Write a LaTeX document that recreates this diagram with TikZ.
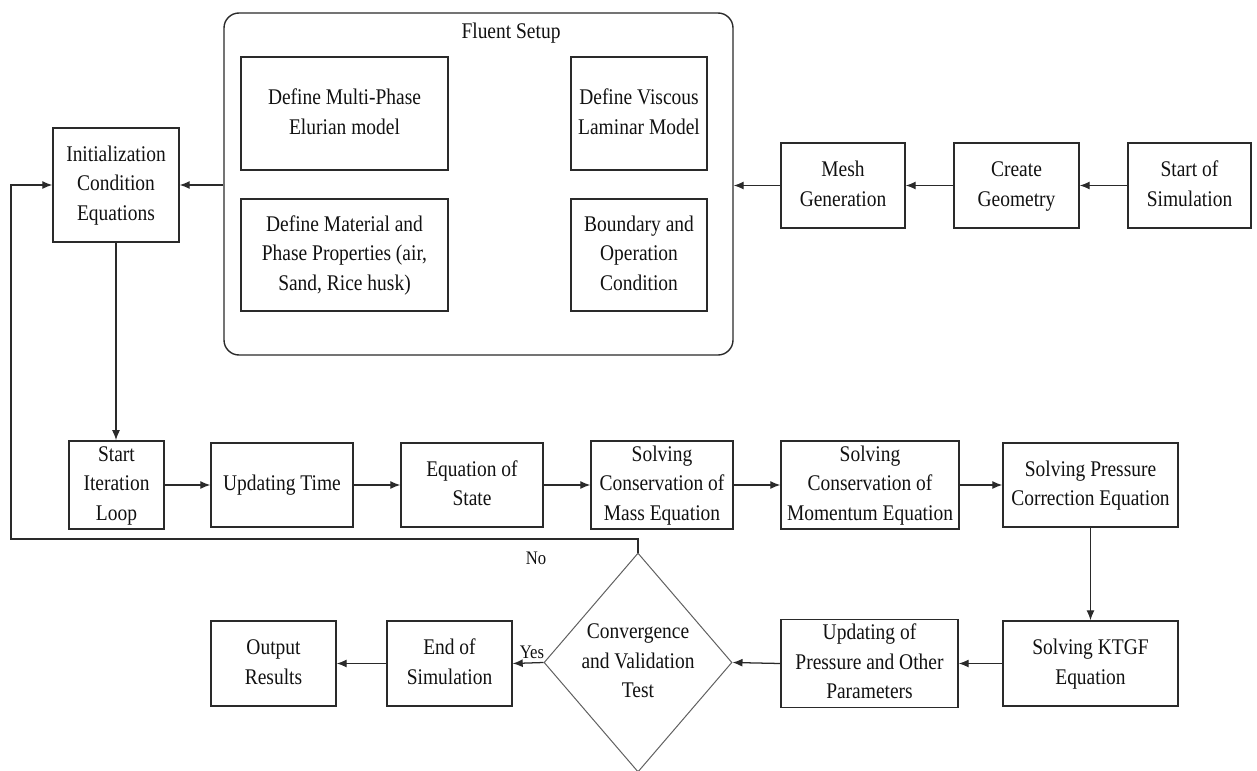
\documentclass[tikz,border=0pt]{standalone}
\usepackage{fontspec}
\setmainfont{Liberation Serif}
\usepackage{graphicx}
\usetikzlibrary{arrows.meta,shapes.geometric}
\newcommand{\tx}[1]{\scalebox{1}[1.15]{\begin{tabular}{@{}c@{}}#1\end{tabular}}}
\definecolor{linec}{HTML}{2A2A2A}
\definecolor{diac}{HTML}{606060}
\definecolor{txtc}{HTML}{111111}
\begin{document}
\begin{tikzpicture}[x=0.75pt,y=-0.75pt,
  bx/.style 2 args={draw=linec, line width=1.05pt, inner sep=0pt, text=txtc,
    minimum width=#1*0.75pt, minimum height=#2*0.75pt,
    font=\fontsize{14.6}{19.2}\selectfont},
  arr/.style={draw=linec, line width=0.95pt, -{Latex[length=7.5pt,width=6pt]}},
  lbl/.style={inner sep=0pt, text=txtc, font=\fontsize{14.6}{19.2}\selectfont},
  small/.style={inner sep=0pt, text=txtc, font=\fontsize{12.5}{15}\selectfont}]
\useasboundingbox (0,0) rectangle (1257,771);

% Fluent setup group
\node[bx={509}{342}, rounded corners=11.25pt] (fluent) at (478.5,184) {};
\node[lbl] (ftitle) at (511,33) {\tx{Fluent Setup}};
\node[bx={207}{113}] (mp) at (344.5,113.5) {\tx{Define Multi-Phase\\Elurian model}};
\node[bx={136}{113}] (vis) at (639,113.5) {\tx{Define Viscous\\Laminar Model}};
\node[bx={207}{112}] (mat) at (344.5,255) {\tx{Define Material and\\Phase Properties (air,\\Sand, Rice husk)}};
\node[bx={136}{112}] (bnd) at (639,255) {\tx{Boundary and\\Operation\\Condition}};

% top row
\node[bx={126}{114}] (init) at (116,185) {\tx{Initialization\\Condition\\Equations}};
\node[bx={124}{85}] (mesh) at (843,185.5) {\tx{Mesh\\Generation}};
\node[bx={125}{85}] (geom) at (1016.5,185.5) {\tx{Create\\Geometry}};
\node[bx={123}{85}] (start) at (1189.5,185.5) {\tx{Start of\\Simulation}};

% middle row
\node[bx={95}{84}] (si) at (116.5,485) {\tx{Start\\Iteration\\Loop}};
\node[bx={142}{84}] (ut) at (282,485) {\tx{Updating Time}};
\node[bx={142}{84}] (es) at (472,485) {\tx{Equation of\\State}};
\node[bx={142}{84}] (mass) at (662,485) {\tx{Solving\\Conservation of\\Mass Equation}};
\node[bx={178}{84}] (mom) at (870,485) {\tx{Solving\\Conservation of\\Momentum Equation}};
\node[bx={175}{84}] (pc) at (1090.5,485) {\tx{Solving Pressure\\Correction Equation}};

% bottom row
\node[bx={125}{85}] (out) at (273.5,663.5) {\tx{Output\\Results}};
\node[bx={125}{85}] (endsim) at (449.5,663.5) {\tx{End of\\Simulation}};
\node[bx={177}{85}] (upd) at (869.5,663.5) {\tx{Updating of\\Pressure and Other\\Parameters}};
\node[bx={175}{85}] (ktgf) at (1090.5,663.5) {\tx{Solving KTGF\\Equation}};
\node[diamond, draw=diac, line width=0.75pt, inner sep=0pt,
  minimum width=188*0.75pt, minimum height=219*0.75pt,
  label={[lbl]center:\tx{Convergence\\and Validation\\Test}}] (dia) at (638,662.5) {};

% connectors top
\draw[arr] (start.west) -- (geom.east);
\draw[arr] (geom.west) -- (mesh.east);
\draw[arr] (mesh.west) -- (mesh.west -| fluent.east);
\draw[arr] (init.east -| fluent.west) -- (init.east);
\draw[arr] (init.south) -- (init.south |- si.north);

% middle row
\draw[arr] (si.east) -- (ut.west);
\draw[arr] (ut.east) -- (es.west);
\draw[arr] (es.east) -- (mass.west);
\draw[arr] (mass.east) -- (mom.west);
\draw[arr] (mom.east) -- (pc.west);
\draw[arr] (pc.south) -- (ktgf.north);

% bottom row
\draw[arr] (ktgf.west) -- (upd.east);
\draw[arr] (upd.west) -- (dia.east);
\draw[arr] (dia.west) -- (endsim.east);
\draw[arr] (endsim.west) -- (out.east);

% loop back
\coordinate (lp) at (11,539);
\draw[arr] (dia.north) |- (lp) |- (init.west);

\node[small] (no) at (536,558) {\scalebox{1}[1.15]{No}};
\node[small] (yes) at (532,652) {\scalebox{1}[1.15]{Yes}};
\end{tikzpicture}
\end{document}
